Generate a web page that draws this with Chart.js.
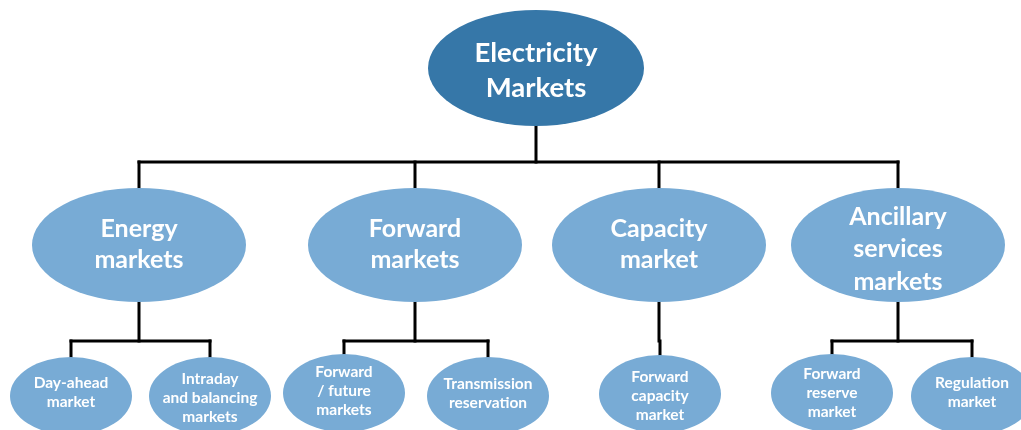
<!DOCTYPE html>
<html>
<head>
<meta charset="utf-8">
<script src="https://cdn.jsdelivr.net/npm/chart.js@4.4.0/dist/chart.umd.min.js"></script>
<style>
html,body{margin:0;padding:0;background:#fff;}
#c{display:block;}
</style>
</head>
<body>
<canvas id="c" width="1021" height="430"></canvas>
<script>
// ---- data: tree nodes ----
const nodeLabels = [
  ["Electricity", "Markets"],
  ["Energy", "markets"],
  ["Forward", "markets"],
  ["Capacity", "market"],
  ["Ancillary", "services", "markets"],
  ["Day-ahead", "market"],
  ["Intraday", "and balancing", "markets"],
  ["Forward", "/ future", "markets"],
  ["Transmission", "reservation"],
  ["Forward", "capacity", "market"],
  ["Forward", "reserve", "market"],
  ["Regulation", "market"]
];
const nodeParent = [-1, 0, 0, 0, 0, 1, 1, 2, 2, 3, 4, 4];
const nodeLevel  = [0, 1, 1, 1, 1, 2, 2, 2, 2, 2, 2, 2];

// ---- layout (diagram coordinates, in scale units) ----
const nodeX  = [536, 139, 415, 659, 898, 71, 210, 344, 488, 660, 832, 972];
const nodeY  = [68, 245, 245, 245, 245, 396, 396, 393, 396, 394, 393, 396];
const textDy = [3, -1, -1, -1, 4, -4, 2, -2, -3, 2, 0, -4];
const busY   = [162, 341];

// ---- styles ----
const levelStyle = [
  {rx: 108, ry: 58, fill: "#3677a8", font: "bold 27.5px Lato", lh: 35},
  {rx: 107, ry: 57, fill: "#78abd5", font: "bold 25px Lato", lh: 31},
  {rx: 61,  ry: 39, fill: "#78abd5", font: "bold 15.5px Lato", lh: 19}
];
const threeLineLh = [35, 32.5, 19];

const nodePoints = nodeX.map((x, i) => ({x: x, y: nodeY[i]}));

const lineDatasets = [];
function seg(a, b) {
  lineDatasets.push({
    type: "line", data: [a, b], showLine: true, borderColor: "#000",
    borderWidth: 3, pointRadius: 0, borderCapStyle: "square", fill: false, order: 2
  });
}
nodeLabels.forEach((_, p) => {
  const kids = nodeParent.map((q, i) => q === p ? i : -1).filter(i => i >= 0);
  if (!kids.length) return;
  const by = busY[nodeLevel[p]];
  seg({x: nodeX[p], y: nodeY[p]}, {x: nodeX[p], y: by});
  const xs = kids.map(k => nodeX[k]);
  if (kids.length > 1) seg({x: Math.min(...xs), y: by}, {x: Math.max(...xs), y: by});
  kids.forEach(k => seg({x: nodeX[k], y: by}, {x: nodeX[k], y: nodeY[k]}));
});

const nodePlugin = {
  id: "nodes",
  afterDatasetsDraw(chart) {
    const meta = chart.getDatasetMeta(chart.data.datasets.length - 1);
    const ctx = chart.ctx;
    ctx.save();
    meta.data.forEach((el, i) => {
      const lv = nodeLevel[i];
      const st = levelStyle[lv];
      ctx.beginPath();
      ctx.ellipse(el.x, el.y, st.rx, st.ry, 0, 0, Math.PI * 2);
      ctx.fillStyle = st.fill;
      ctx.fill();
      ctx.fillStyle = "#fff";
      ctx.font = st.font;
      ctx.textAlign = "center";
      ctx.textBaseline = "middle";
      const lines = nodeLabels[i];
      const lh = lines.length > 2 ? threeLineLh[lv] : st.lh;
      const y0 = el.y + textDy[i] - (lines.length - 1) * lh / 2;
      lines.forEach((t, j) => ctx.fillText(t, el.x, y0 + j * lh));
    });
    ctx.restore();
  }
};

new Chart(document.getElementById("c"), {
  type: "scatter",
  data: {
    datasets: lineDatasets.concat([{
      type: "scatter", data: nodePoints, pointRadius: 0, order: 1
    }])
  },
  options: {
    responsive: false,
    animation: false,
    layout: {padding: 0},
    plugins: {legend: {display: false}, tooltip: {enabled: false}},
    scales: {
      x: {type: "linear", min: 0, max: 1021, display: false},
      y: {type: "linear", min: 0, max: 430, reverse: true, display: false}
    }
  },
  plugins: [nodePlugin]
});
</script>
</body>
</html>
